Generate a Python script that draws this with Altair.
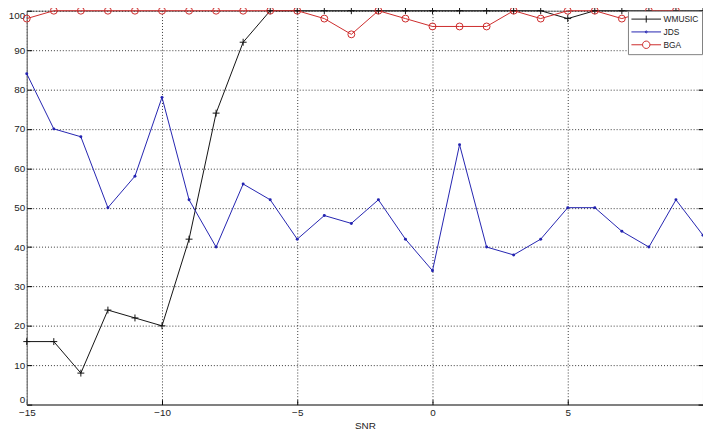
import altair as alt
import pandas as pd

# ---- data ----
snr = [-15, -14, -13, -12, -11, -10, -9, -8, -7, -6, -5, -4, -3,
       -2, -1, 0, 1, 2, 3, 4, 5, 6, 7, 8, 9, 10]
wmusic = [16, 16, 8, 24, 22, 20, 42, 74, 92, 100, 100, 100, 100,
          100, 100, 100, 100, 100, 100, 100, 98, 100, 100, 100, 100, 100]
jds = [84, 70, 68, 50, 58, 78, 52, 40, 56, 52, 42, 48, 46,
       52, 42, 34, 66, 40, 38, 42, 50, 50, 44, 40, 52, 43]
bga = [98, 100, 100, 100, 100, 100, 100, 100, 100, 100, 100, 98, 94,
       100, 98, 96, 96, 96, 100, 98, 100, 100, 98, 100, 100, 98]
series_names = ["WMUSIC", "JDS", "BGA"]
series_colors = ["#111111", "#2323b0", "#cc2a2a"]
x_ticks = [-15, -10, -5, 0, 5]
y_ticks = [0, 10, 20, 30, 40, 50, 60, 70, 80, 90, 100]

rows = []
for name, vals in zip(series_names, [wmusic, jds, bga]):
    for s, v in zip(snr, vals):
        rows.append({"snr": s, "value": v, "series": name})
df = pd.DataFrame(rows)

W, H = 685, 399
FONT = "Liberation Sans"

xs = alt.Scale(domain=[-15, 10], nice=False, zero=False)
ys = alt.Scale(domain=[0, 100], nice=False)
cs = alt.Scale(domain=series_names, range=series_colors)

color_nolegend = alt.Color("series:N", scale=cs, legend=None)

# main axes
x_main = alt.X("snr:Q", scale=xs, axis=alt.Axis(
    values=x_ticks, title="SNR", ticks=False, grid=True, gridColor="#000000",
    gridOpacity=0.8, gridDash=[1, 2], domainColor="#808080", domainWidth=2,
    labelFont=FONT, labelFontSize=10, labelColor="#222222", labelPadding=3,
    titleFont=FONT, titleFontSize=10, titleFontWeight="normal", titleColor="#222222",
    titlePadding=3, labelFlush=False))
y_main = alt.Y("value:Q", scale=ys, axis=alt.Axis(
    values=y_ticks, title=None, ticks=False, grid=True, gridColor="#000000",
    gridOpacity=0.8, gridDash=[1, 2], domainColor="#808080", domainWidth=1,
    labelFont=FONT, labelFontSize=10, labelColor="#222222", labelPadding=2,
    labelFlush=True, labelFlushOffset=0))

lines = alt.Chart(df).mark_line(strokeWidth=1).encode(
    x=x_main, y=y_main, color=color_nolegend)

# inward tick marks (MATLAB style)
x_in = alt.X("snr:Q", scale=xs, axis=alt.Axis(
    orient="top", offset=-H, values=x_ticks, labels=False, domain=False,
    grid=False, ticks=True, tickSize=5, tickColor="#000000", title=None))
y_in_left = alt.Y("value:Q", scale=ys, axis=alt.Axis(
    orient="right", offset=-W, values=y_ticks, labels=False, domain=False,
    grid=False, ticks=True, tickSize=5, tickColor="#000000", title=None))
y_in_right = alt.Y("value:Q", scale=ys, axis=alt.Axis(
    orient="left", offset=-W, values=y_ticks, labels=False, domain=False,
    grid=False, ticks=True, tickSize=5, tickColor="#000000", title=None))
x_none = alt.X("snr:Q", scale=xs, axis=None)
y_none = alt.Y("value:Q", scale=ys, axis=None)

pts_w = alt.Chart(df).transform_filter(alt.datum.series == "WMUSIC").mark_point(
    shape="M-1,0H1M0,-1V1", size=49, filled=False, strokeWidth=1, opacity=1
).encode(x=x_in, y=y_none, color=color_nolegend)

pts_j = alt.Chart(df).transform_filter(alt.datum.series == "JDS").mark_point(
    shape="circle", size=9, filled=True, opacity=1
).encode(x=x_none, y=y_in_left, color=color_nolegend)

pts_b = alt.Chart(df).transform_filter(alt.datum.series == "BGA").mark_point(
    shape="circle", size=49, filled=False, strokeWidth=1, opacity=1
).encode(x=x_none, y=y_in_right, color=color_nolegend)

# legend: line + marker symbols (unit = 5px; line spans 30px, marker in the middle)
legend_paths = [
    "M-1,0H5M2,-0.7V0.7",
    "M-1,0H5M1.8,0A0.2,0.2 0 1,1 2.2,0A0.2,0.2 0 1,1 1.8,0",
    "M-1,0H1.25A0.75,0.75 0 1,1 2.75,0A0.75,0.75 0 1,1 1.25,0M2.75,0H5",
]
leg = alt.Legend(orient="none", legendX=609, legendY=0, title=None,
                 strokeColor="#808080", fillColor="#ffffff", padding=3,
                 labelFont=FONT, labelFontSize=8.5, labelColor="#222222",
                 symbolSize=100, symbolStrokeWidth=1, labelOffset=22,
                 rowPadding=2)
legend_layer = alt.Chart(df).transform_filter("false").mark_point(
    filled=False, size=100, strokeWidth=1, opacity=1
).encode(
    color=alt.Color("series:N", scale=cs, legend=leg, sort=series_names),
    shape=alt.Shape("series:N", scale=alt.Scale(domain=series_names, range=legend_paths),
                    legend=leg, sort=series_names),
)

chart = alt.layer(lines, pts_w, pts_j, pts_b, legend_layer).resolve_axis(
    x="independent", y="independent"
).resolve_legend(color="independent", shape="independent").properties(
    width=W, height=H,
    padding={"left": 19, "top": 0, "right": 0, "bottom": 25},
    autosize=alt.AutoSizeParams(type="none"),
).configure_view(stroke="#808080", strokeWidth=1)

chart.save("out.html", embed_options={"renderer": "svg", "actions": False})
